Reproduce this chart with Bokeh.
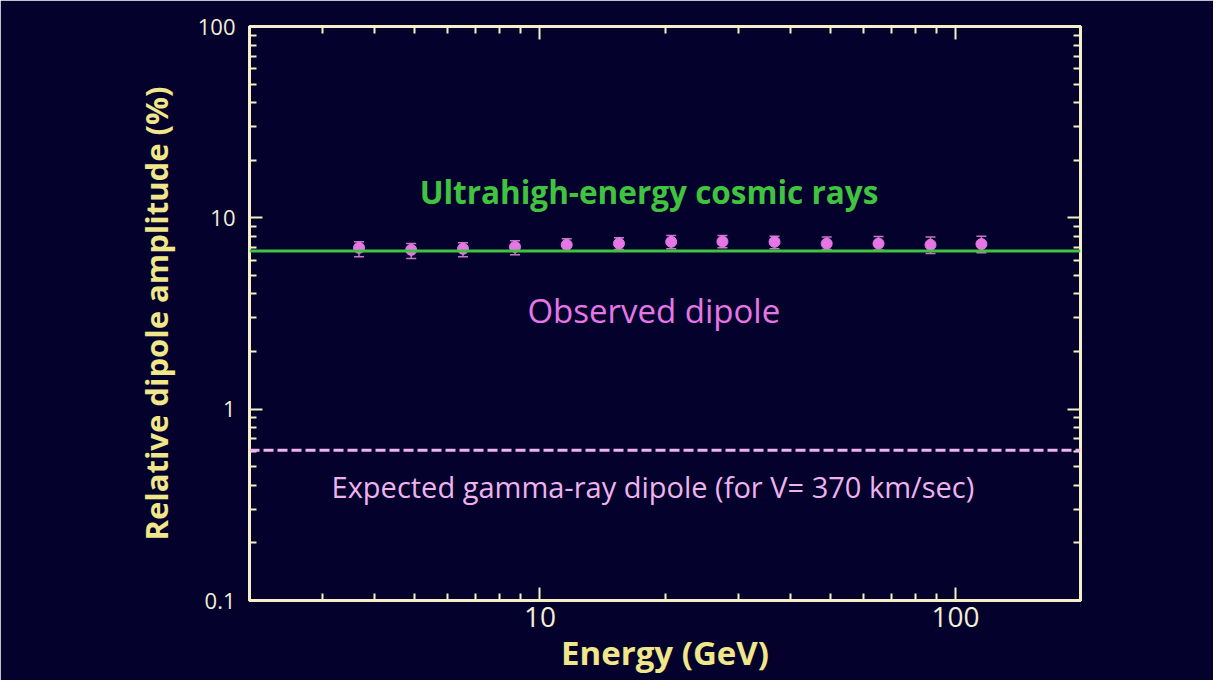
from bokeh.plotting import figure
from bokeh.models import (LogAxis, FixedTicker, CustomJSTickFormatter, Whisker, TeeHead,
                          ColumnDataSource, Span, Label)
from bokeh.embed import file_html
from bokeh.resources import INLINE

# ---- data ----
energy_gev = [3.67, 4.90, 6.53, 8.71, 11.6, 15.5, 20.7, 27.5, 36.7, 49.0, 65.3, 87.1, 115.5]
dipole_amp = [6.97, 6.80, 6.89, 7.05, 7.23, 7.34, 7.49, 7.52, 7.49, 7.34, 7.34, 7.23, 7.29]
dipole_hi = [7.49, 7.34, 7.40, 7.58, 7.77, 7.86, 8.08, 8.08, 8.02, 7.93, 7.98, 7.93, 8.02]
dipole_lo = [6.26, 6.13, 6.26, 6.41, 6.72, 6.83, 6.89, 6.97, 6.89, 6.83, 6.80, 6.51, 6.56]
uhecr_level = 6.7
gamma_expected = 0.61
x_major = [10, 100]
x_minor = [2, 3, 4, 5, 6, 7, 8, 9, 20, 30, 40, 50, 60, 70, 80, 90, 200]
y_major = [0.1, 1, 10, 100]
y_minor = [0.2, 0.3, 0.4, 0.5, 0.6, 0.7, 0.8, 0.9, 2, 3, 4, 5, 6, 7, 8, 9,
           20, 30, 40, 50, 60, 70, 80, 90]

BG = "#04022c"
CREAM = "#f4efc6"
TICKTXT = "#f2eed8"
YELLOW = "#f0e68a"
GREEN = "#40c440"
PINK = "#e676e6"
ERR = "#c27ac2"
LIGHTPINK = "#eeb2ee"
FONT = "Open Sans"

p = figure(width=1213, height=680, x_axis_type="log", y_axis_type="log",
           x_range=(2, 200), y_range=(0.1, 100),
           output_backend="svg", toolbar_location=None,
           background_fill_color=BG, border_fill_color=BG,
           min_border_left=249, min_border_right=133,
           min_border_top=26, min_border_bottom=80)
p.grid.visible = False
p.outline_line_color = CREAM
p.outline_line_width = 3

def style_axis(ax, ticks, minor, label_size, show_labels=True, standoff=14):
    ax.ticker = FixedTicker(ticks=ticks, minor_ticks=minor)
    ax.axis_line_color = CREAM
    ax.axis_line_width = 3
    ax.major_tick_line_color = CREAM
    ax.minor_tick_line_color = CREAM
    ax.major_tick_line_width = 2
    ax.minor_tick_line_width = 2
    ax.major_tick_in = 13
    ax.major_tick_out = 0
    ax.minor_tick_in = 7
    ax.minor_tick_out = 0
    if show_labels:
        ax.formatter = CustomJSTickFormatter(code="return String(tick)")
        ax.major_label_text_color = TICKTXT
        ax.major_label_text_font = FONT
        ax.major_label_text_font_size = label_size
        ax.major_label_standoff = standoff
    else:
        ax.formatter = CustomJSTickFormatter(code="return ''")
        ax.major_label_standoff = 0
        ax.major_label_text_font_size = "1px"

xa = p.xaxis[0]
ya = p.yaxis[0]
style_axis(xa, x_major, x_minor, "28px", standoff=6)
style_axis(ya, y_major, y_minor, "22px", standoff=14)

xa.axis_label = "Energy (GeV)"
ya.axis_label = "Relative dipole amplitude (%)"
for ax in (xa, ya):
    ax.axis_label_text_color = YELLOW
    ax.axis_label_text_font = FONT
    ax.axis_label_text_font_style = "bold"
xa.axis_label_text_font_size = "33px"
ya.axis_label_text_font_size = "31px"
xa.axis_label_standoff = 0
ya.axis_label_standoff = 18

top = LogAxis()
right = LogAxis()
style_axis(top, x_major, x_minor, "1px", show_labels=False)
style_axis(right, y_major, y_minor, "1px", show_labels=False)
p.add_layout(top, "above")
p.add_layout(right, "right")

p.add_layout(Span(location=uhecr_level, dimension="width", line_color=GREEN, line_width=3))
p.add_layout(Span(location=gamma_expected, dimension="width", line_color=LIGHTPINK,
                  line_width=3, line_dash="10 4"))

src = ColumnDataSource(dict(x=energy_gev, y=dipole_amp, hi=dipole_hi, lo=dipole_lo))
p.add_layout(Whisker(base="x", upper="hi", lower="lo", source=src, dimension="height",
                     line_color=ERR, line_width=1.5,
                     upper_head=TeeHead(size=10, line_color=ERR, line_width=1.5),
                     lower_head=TeeHead(size=10, line_color=ERR, line_width=1.5)))
p.scatter("x", "y", source=src, size=11, color=PINK, line_color=PINK)

p.add_layout(Label(x=18.3, y=13.8, text="Ultrahigh-energy cosmic rays", text_color=GREEN,
                   text_font=FONT, text_font_size="31.5px", text_font_style="bold",
                   text_align="center", text_baseline="middle"))
p.add_layout(Label(x=18.8, y=3.27, text="Observed dipole", text_color=PINK,
                   text_font=FONT, text_font_size="33px",
                   text_align="center", text_baseline="middle"))
p.add_layout(Label(x=18.7, y=0.396, text="Expected gamma-ray dipole (for V= 370 km/sec)",
                   text_color=LIGHTPINK, text_font=FONT, text_font_size="29px",
                   text_align="center", text_baseline="middle"))

open("out.html", "w").write(file_html(p, INLINE))
